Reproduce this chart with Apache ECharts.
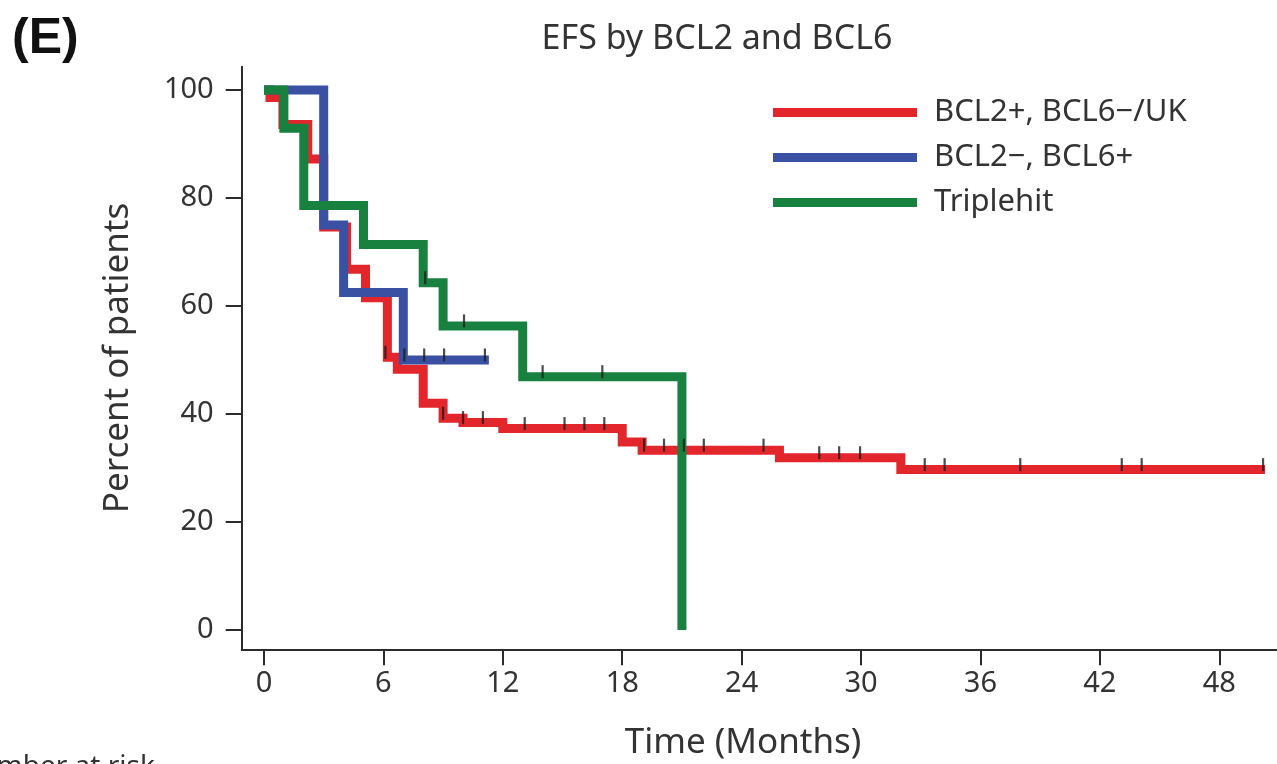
<!DOCTYPE html>
<html>
<head>
<meta charset="utf-8">
<title>EFS by BCL2 and BCL6</title>
<script src="https://cdn.jsdelivr.net/npm/echarts@6/dist/echarts.min.js"></script>
<style>
  html, body { margin: 0; padding: 0; background: #fff; }
  #chart { width: 1277px; height: 764px; }
</style>
</head>
<body>
<div id="chart"></div>
<script>
// Kaplan-Meier event-free survival, steps as [month, percent]
const seriesNames = ['BCL2+, BCL6\u2212/UK', 'BCL2\u2212, BCL6+', 'Triplehit'];

const redSteps = [
  [0, 100], [0.3, 98.6], [0.95, 93.6], [2.2, 87.2], [3.0, 74.6], [4.15, 66.8],
  [5.1, 61.5], [6.2, 50.5], [6.7, 48.3], [8.0, 42.0], [9.0, 39.2], [10.0, 38.4],
  [12.0, 37.3], [18.0, 34.8], [19.0, 33.3], [25.9, 31.9], [32.0, 29.7], [50.3, 29.7]
];
const redCensor = [
  [6.1, 50.5], [9.0, 39.2], [10.0, 38.4], [11.0, 38.4], [13.1, 37.3], [15.1, 37.3],
  [16.1, 37.3], [17.1, 37.3], [19.1, 33.3], [20.1, 33.3], [21.1, 33.3], [22.1, 33.3],
  [25.1, 33.3], [27.9, 31.9], [28.9, 31.9], [29.95, 31.9], [33.2, 29.7], [34.2, 29.7],
  [38.0, 29.7], [43.1, 29.7], [44.1, 29.7], [50.2, 29.7]
];

const blueSteps = [[0, 100], [3.0, 75], [4.0, 62.5], [7.0, 50], [11.3, 50]];
const blueCensor = [[7.05, 50], [8.05, 50], [9.05, 50], [11.1, 50]];

const greenSteps = [
  [0, 100], [1.0, 92.9], [2.0, 78.6], [5.0, 71.4], [8.0, 64.3], [9.0, 56.3],
  [13.0, 46.9], [21.0, 0]
];
const greenCensor = [[8.1, 64.3], [10.05, 56.3], [14.0, 46.9], [17.0, 46.9]];

const xTicks = [0, 6, 12, 18, 24, 30, 36, 42, 48];
const yTicks = [0, 20, 40, 60, 80, 100];

const colors = ['#e2262c', '#3a51a3', '#19813f'];
const font = '"Noto Sans", "Open Sans", sans-serif';
const axisColor = '#2b2b2b';
const textColor = '#333';

function stepSeries(name, data, color, z) {
  return {
    name: name, type: 'line', step: 'end', data: data,
    showSymbol: false, symbol: 'none', z: z,
    lineStyle: { color: color, width: 9, join: 'miter', cap: 'butt' },
    itemStyle: { color: color },
    emphasis: { disabled: true }, animation: false
  };
}
function censorSeries(name, data, z) {
  return {
    name: name, type: 'scatter', data: data, z: z,
    symbol: 'rect', symbolSize: [2.2, 13], symbolOffset: [0, -5],
    itemStyle: { color: '#1e1e1e' },
    emphasis: { disabled: true }, animation: false
  };
}

const chart = echarts.init(document.getElementById('chart'), null, { renderer: 'canvas' });
chart.setOption({
  animation: false,
  backgroundColor: '#fff',
  title: {
    text: 'EFS by BCL2 and BCL6',
    left: 712, top: 17, textAlign: 'center',
    textStyle: { fontFamily: font, fontSize: 34, fontWeight: 'normal', color: textColor }
  },
  graphic: [
    { type: 'text', x: 12, y: 39,
      style: { text: '(E)', font: 'bold 50px "Liberation Sans", Arial, sans-serif', fill: '#111', verticalAlign: 'middle' } },
    { type: 'text', x: 743, y: 743,
      style: { text: 'Time (Months)', font: '35px ' + font, fill: textColor,
               align: 'center', verticalAlign: 'middle' } },
    { type: 'text', x: -42, y: 753,
      style: { text: 'Number at risk', font: '28px ' + font, fill: textColor, verticalAlign: 'top' } }
  ],
  legend: {
    data: seriesNames,
    orient: 'vertical', left: 768, top: 92,
    icon: 'rect', itemWidth: 144, itemHeight: 9, itemGap: 14,
    selectedMode: false,
    textStyle: { fontFamily: font, fontSize: 31, color: textColor, padding: [0, 0, 0, 12], lineHeight: 31 }
  },
  grid: { left: 241.7, right: 0, top: 66.7, bottom: 114.7, containLabel: false },
  xAxis: {
    type: 'value', min: -1.12, max: 50.9,
    splitLine: { show: false },
    axisLine: { onZero: false, lineStyle: { color: axisColor, width: 2 } },
    axisTick: { customValues: xTicks, length: 16, lineStyle: { color: axisColor, width: 2 } },
    axisLabel: { customValues: xTicks, margin: 20, fontFamily: font, fontSize: 29, color: textColor }
  },
  yAxis: {
    type: 'value', min: -3.57, max: 104.3,
    name: 'Percent of patients', nameLocation: 'middle', nameGap: 106, nameRotate: 90,
    nameTextStyle: { fontFamily: font, fontSize: 35, color: textColor },
    splitLine: { show: false },
    axisLine: { onZero: false, lineStyle: { color: axisColor, width: 2 } },
    axisTick: { customValues: yTicks, length: 16, lineStyle: { color: axisColor, width: 2 } },
    axisLabel: { customValues: yTicks, margin: 28, fontFamily: font, fontSize: 29, color: textColor }
  },
  series: [
    stepSeries(seriesNames[0], redSteps, colors[0], 2),
    stepSeries(seriesNames[1], blueSteps, colors[1], 3),
    stepSeries(seriesNames[2], greenSteps, colors[2], 4),
    censorSeries('red-censored', redCensor, 6),
    censorSeries('blue-censored', blueCensor, 6),
    censorSeries('green-censored', greenCensor, 6)
  ]
});
</script>
</body>
</html>
